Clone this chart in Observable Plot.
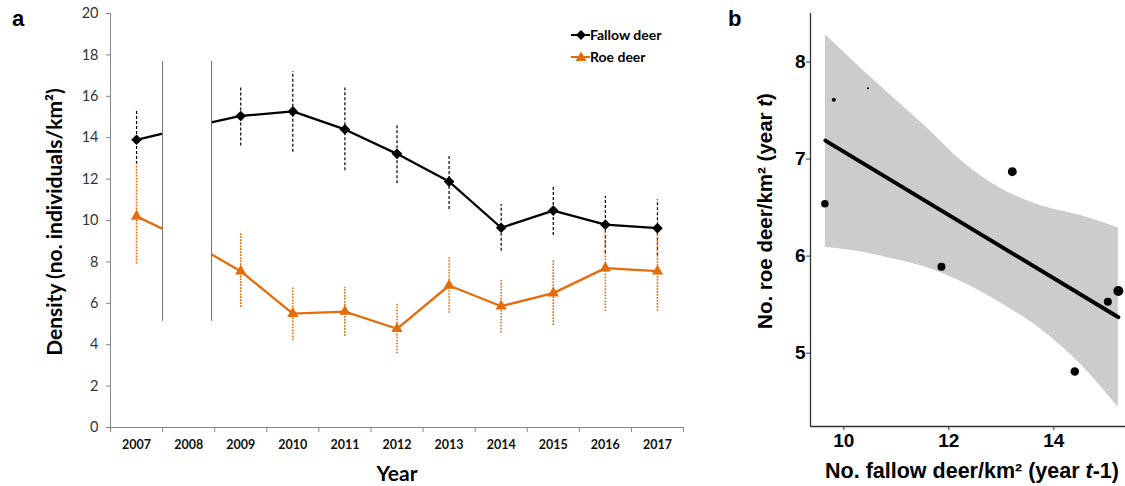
<!DOCTYPE html>
<html><head><meta charset="utf-8">
<script src="https://cdn.jsdelivr.net/npm/d3@7"></script>
<script src="https://cdn.jsdelivr.net/npm/@observablehq/plot@0.6"></script>
<style>
html,body{margin:0;padding:0;background:#fff;}
#wrap{position:relative;width:1125px;height:486px;overflow:hidden;background:#fff;}
.abs{position:absolute;white-space:nowrap;line-height:1;}
</style></head><body>
<div id="wrap">
 <div id="pa" class="abs" style="left:0;top:0"></div>
 <div id="pb" class="abs" style="left:720px;top:0"></div>
 <div class="abs" style="left:12px;top:6px;font:bold 22px 'Liberation Sans';color:#000">a</div>
 <div class="abs" style="left:728px;top:6px;font:bold 22px 'Liberation Sans';color:#000">b</div>
 <div class="abs" style="left:53px;top:222px;transform:translate(-50%,-50%) rotate(-90deg);font:bold 21px Lato;color:#000">Density (no. individuals/km²)</div>
 <div class="abs" style="left:397px;top:472px;transform:translate(-50%,-50%);font:bold 21px Lato;color:#000">Year</div>
 <div class="abs" style="left:972px;top:471px;transform:translate(-50%,-50%);font:bold 21.5px 'Liberation Sans';color:#000">No. fallow deer/km² (year <i>t</i>-1)</div>
 <div class="abs" style="left:765px;top:211px;transform:translate(-50%,-50%) rotate(-90deg);font:bold 20.5px 'Liberation Sans';color:#000">No. roe deer/km² (year <i>t</i>)</div>
 <svg class="abs" style="left:560px;top:20px" width="130" height="55">
  <line x1="11" y1="15" x2="30" y2="15" stroke="#000" stroke-width="2"/>
  <path d="M21,10L26,15L21,20L16,15Z" fill="#000"/>
  <text x="30" y="19.5" font-family="Lato" font-weight="bold" font-size="14" fill="#000">Fallow deer</text>
  <line x1="11" y1="37" x2="30" y2="37" stroke="#E46C0A" stroke-width="2"/>
  <path d="M21,31.5L26.5,41L15.5,41Z" fill="#E46C0A"/>
  <text x="30" y="41.7" font-family="Lato" font-weight="bold" font-size="14" fill="#000">Roe deer</text>
 </svg>
</div>
<script>
// ---- Panel a data ----
const years     = [2007, 2008, 2009, 2010, 2011, 2012, 2013, 2014, 2015, 2016, 2017];
const fallow    = [13.9, 14.5, 15.05, 15.27, 14.4, 13.22, 11.88, 9.65, 10.48, 9.8, 9.63];
const fallowLo  = [12.7, null, 13.6, 13.3, 12.4, 11.77, 10.53, 8.52, 9.28, 8.4, 8.3];
const fallowHi  = [15.3, null, 16.47, 17.2, 16.4, 14.67, 13.14, 10.77, 11.64, 11.17, 11.0];
const roe       = [10.2, 9.0, 7.55, 5.5, 5.6, 4.77, 6.86, 5.86, 6.49, 7.7, 7.55];
const roeLo     = [7.9, null, 5.8, 4.2, 4.41, 3.56, 5.52, 4.56, 4.93, 5.6, 5.62];
const roeHi     = [12.75, null, 9.37, 6.75, 6.78, 5.97, 8.2, 7.1, 8.12, 9.5, 9.4];
const yTicksA   = [0, 2, 4, 6, 8, 10, 12, 14, 16, 18, 20];
const yDomainA  = [0, 20];
const breaks    = [2007.5, 2008.44];   // axis-break marks (years)
const breakSpan = [5.13, 17.68];       // vertical extent of break marks (density)

// ---- Panel b data ----
const prevFallow = [9.64, 9.81, 10.46, 11.86, 13.21, 14.4, 15.03, 15.23];
const roeNow     = [6.54, 7.61, 7.73, 5.89, 6.87, 4.81, 5.53, 5.64];
const weights    = [14, 4, 1, 16, 20, 18, 16, 25];
const fitX       = [9.65, 15.23];
const fitY       = [7.19, 5.37];
const bandX      = [9.65, 10.64, 10.95, 11.59, 12.22, 12.98, 13.75, 14.5, 15.23];
const bandHi     = [8.28, 7.78, 7.63, 7.32, 6.99, 6.70, 6.52, 6.42, 6.29];
const bandLo     = [6.09, 6.01, 5.97, 5.88, 5.74, 5.52, 5.25, 4.89, 4.44];
const xTicksB    = [10, 12, 14];
const yTicksB    = [5, 6, 7, 8];
const xDomainB   = [9.366, 15.366];
const yDomainB   = [4.244, 8.5];

const orange = "#E46C0A";
const axisGray = "#868686";

const rowsA = years.map((year, i) => ({year, fallow: fallow[i], fallowLo: fallowLo[i], fallowHi: fallowHi[i], roe: roe[i], roeLo: roeLo[i], roeHi: roeHi[i]}));
const observed = rowsA.filter(d => d.fallowLo != null);
const boundaries = d3.range(years.length + 1).map(i => years[0] - 0.5 + i);

const chartA = Plot.plot({
  width: 720, height: 486,
  marginLeft: 110, marginRight: 37, marginTop: 13, marginBottom: 59,
  style: {fontFamily: "Lato", background: "white", overflow: "visible"},
  x: {domain: [boundaries[0], boundaries[boundaries.length - 1]]},
  y: {domain: yDomainA},
  marks: [
    Plot.ruleX(observed, {x: "year", y1: "fallowLo", y2: "fallowHi", stroke: "#000", strokeWidth: 1.2, strokeDasharray: "3,2"}),
    Plot.ruleX(observed, {x: "year", y1: "roeLo", y2: "roeHi", stroke: orange, strokeWidth: 1.6, strokeDasharray: "1.6,1.4"}),
    Plot.line(rowsA, {x: "year", y: "fallow", stroke: "#000", strokeWidth: 2.3}),
    Plot.line(rowsA, {x: "year", y: "roe", stroke: orange, strokeWidth: 2.3}),
    Plot.rect([breaks], {x1: d => d[0], x2: d => d[1], y1: yDomainA[0], y2: yDomainA[1], fill: "white"}),
    Plot.ruleX(breaks, {x: d => d, y1: breakSpan[0], y2: breakSpan[1], stroke: "#6e6e6e", strokeWidth: 1}),
    Plot.dot(observed, {x: "year", y: "fallow", symbol: "diamond2", r: 4.8, fill: "#000"}),
    Plot.dot(observed, {x: "year", y: "roe", symbol: "triangle", r: 4.2, fill: orange}),
    Plot.ruleX([boundaries[0]], {stroke: axisGray}),
    Plot.ruleY([yDomainA[0]], {stroke: axisGray}),
    Plot.axisY({ticks: yTicksA, tickSize: 4, tickPadding: 8, fontSize: 14.5, stroke: axisGray, fill: "#333", label: null}),
    Plot.axisX({ticks: boundaries, tickSize: 5, tickFormat: () => "", stroke: axisGray, label: null}),
    Plot.axisX({ticks: years, tickSize: 0, tickPadding: 13, tickFormat: d => String(d), fontSize: 12.5, fontWeight: "bold", fill: "#111", label: null})
  ]
});
document.getElementById("pa").appendChild(chartA);

const pts = prevFallow.map((x, i) => ({x, y: roeNow[i], w: weights[i]}));
const fit = fitX.map((x, i) => ({x, y: fitY[i]}));
const band = bandX.map((x, i) => ({x, lo: bandLo[i], hi: bandHi[i]}));

const chartB = Plot.plot({
  width: 405, height: 486,
  marginLeft: 90, marginRight: 0, marginTop: 13, marginBottom: 60,
  style: {fontFamily: "Liberation Sans", background: "white", overflow: "visible"},
  x: {domain: xDomainB},
  y: {domain: yDomainB},
  r: {type: "sqrt", domain: [0, 25], range: [0, 5]},
  marks: [
    Plot.areaY(band, {x: "x", y1: "lo", y2: "hi", fill: "#cccccc", curve: "monotone-x"}),
    Plot.line(fit, {x: "x", y: "y", stroke: "#000", strokeWidth: 4}),
    Plot.dot(pts, {x: "x", y: "y", r: "w", fill: "#000"}),
    Plot.ruleX([xDomainB[0]], {stroke: "#333", strokeWidth: 1.3}),
    Plot.ruleY([yDomainB[0]], {stroke: "#333", strokeWidth: 1.3}),
    Plot.axisY({ticks: yTicksB, tickSize: 4, tickPadding: 1, tickFormat: d => String(d), fontSize: 19, fontWeight: "bold", fill: "#000", stroke: "#333", label: null}),
    Plot.axisX({ticks: xTicksB, tickSize: 4, tickPadding: 3, tickFormat: d => String(d), fontSize: 19, fontWeight: "bold", fill: "#000", stroke: "#333", label: null})
  ]
});
document.getElementById("pb").appendChild(chartB);
</script>
</body></html>
